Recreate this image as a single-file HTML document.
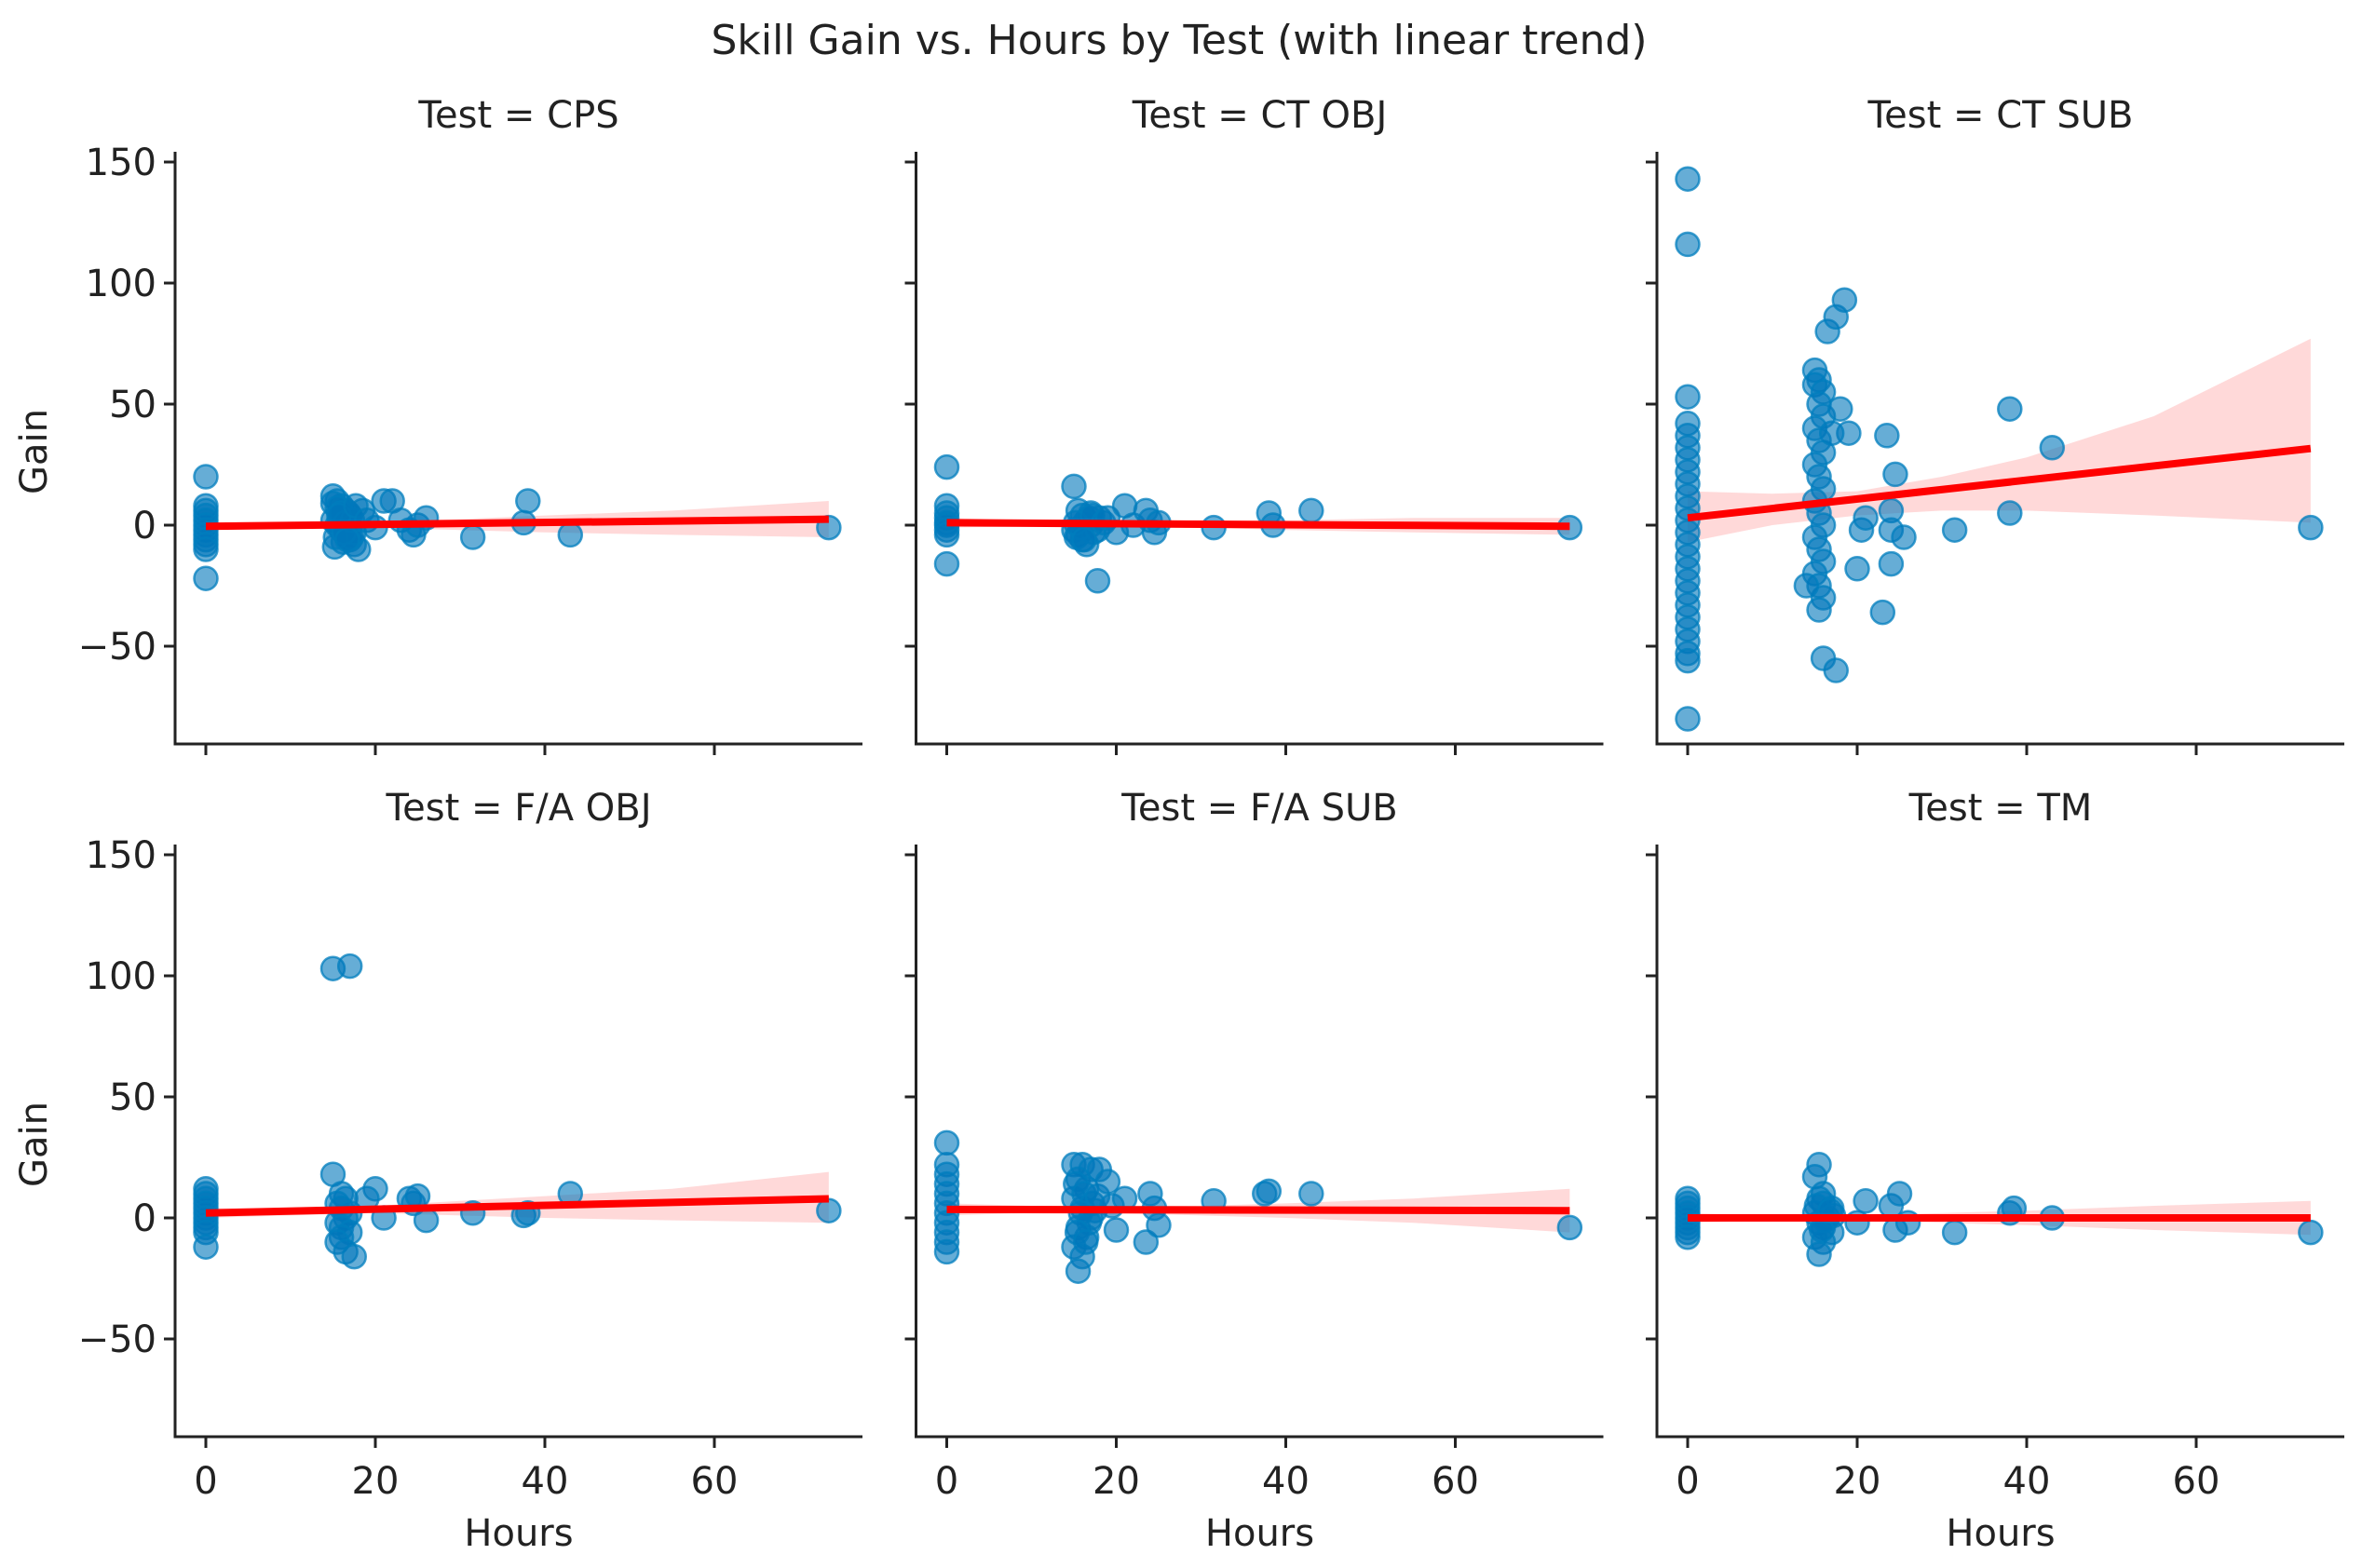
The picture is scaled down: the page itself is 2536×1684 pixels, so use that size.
<!DOCTYPE html>
<html><head><meta charset="utf-8">
<style>
html,body{margin:0;padding:0;background:#fff;}
svg{display:block;font-family:"DejaVu Sans","Liberation Sans",sans-serif;}
</style></head>
<body>
<svg id="chart" width="2536" height="1684" viewBox="0 0 2536 1684" xmlns="http://www.w3.org/2000/svg">
<text x="1266" y="58" font-size="44" text-anchor="middle" fill="#222">Skill Gain vs. Hours by Test (with linear trend)</text>
<text x="0" y="0" font-size="40" text-anchor="middle" fill="#222" transform="translate(50,485) rotate(-90)">Gain</text>
<text x="0" y="0" font-size="40" text-anchor="middle" fill="#222" transform="translate(50,1229) rotate(-90)">Gain</text>
<g id="panels"></g>
</svg>
<script>
const panelTitles = ["Test = CPS","Test = CT OBJ","Test = CT SUB","Test = F/A OBJ","Test = F/A SUB","Test = TM"];
const yTicks = [-50,0,50,100,150];
const xTicks = [0,20,40,60];

const cpsHours = [0,0,0,0,0,0,0,0,0,0,0,0, 15,15.5,16,16.5,17,15,15.5,16,16.5,17,17.5,18,15.2,16.2,17.2,15.8,16.8,18.5, 15,15.5,16,16.5,17,17.5,15.3,16.3,17.3,15.7,16.7,17.7, 19,20,21,22,23,24,24.5,25,26,31.5,38,37.5,43,73.5];
const cpsGain  = [20,8,6,4,2,0,-2,-4,-6,-8,-10,-22, 12,10,8,6,4,2,0,-2,-4,-6,-8,-10,-9,-7,-5,3,5,6, 9,7,5,1,-1,-3,-5,-3,2,4,-6,8, 2,-1,10,10,2,-2,-4,0,3,-5,10,1,-4,-1];

const ctoHours = [0,0,0,0,0,0,0,0,0, 15,15.5,16,16.5,17,15,15.5,16,16.5,17,18,15.3,16.3,17.3, 15.8,16.8,17.8,15.2,16.2,17.2,18.5, 17.8,19,20,21,22,23.5,24,24.5,25,31.5,38,38.5,43,73.5];
const ctoGain  = [24,8,5,3,1,0,-2,-4,-16, 16,6,4,2,0,-2,-4,-6,-8,5,3,-5,1,-3, -1,3,-2,1,-6,4,1, -23,3,-3,8,0,6,2,-3,1,-1,5,0,6,-1];

const ctsHours = [0,0,0,0,0,0,0,0,0,0,0,0,0,0,0,0,0,0,0,0,0,0,0,0,0, 15,15.5,15,16,15.5,16,15,15.5,16,15,15.5,16,15,15.5,16,15,15.5,16,15,15.5,16,15.5, 16.5,17.5,18.5,16,17.5,14,19,18,17,20,20.5,21,23.5,23,24,24,24.5,24,25.5,31.5,38,38,43,73.5];
const ctsGain  = [143,116,53,42,37,32,27,22,17,12,7,2,-3,-8,-13,-18,-23,-28,-33,-38,-43,-48,-53,-56,-80, 64,60,58,55,50,45,40,35,30,25,20,15,10,5,0,-5,-10,-15,-20,-25,-30,-35, 80,86,93,-55,-60,-25,38,48,38,-18,-2,3,37,-36,-16,6,21,-2,-5,-2,48,5,32,-1];

const faoHours = [0,0,0,0,0,0,0,0,0,0,0, 15,17,15,16,16.5,15.5,16,17,16.5,15.5,16,17,16,15.5,16.5, 17.5,20,19,21,24,24.5,25,26,31.5,37.5,38,43,73.5];
const faoGain  = [12,10,8,6,4,2,0,-2,-4,-6,-12, 103,104,18,10,8,6,4,2,0,-2,-4,-6,-8,-10,-14, -16,12,8,0,8,6,9,-1,2,1,2,10,3];

const fasHours = [0,0,0,0,0,0,0,0,0,0,0, 15,16,17,15.5,16.5,15,16,17,15.5,16.5,15,17.5,16,15.5, 15.2,16.2,17.2,15.8,16.8,17.8,15.4,16.4, 18,19,19.5,20,21,23.5,24,24.5,25,31.5,37.5,38,43,73.5];
const fasGain  = [31,22,18,14,10,6,2,-2,-6,-10,-14, 22,22,20,16,12,8,4,0,-4,-8,-12,3,-16,-22, 14,10,6,2,-2,9,-6,-10, 20,15,5,-5,8,-10,10,4,-3,7,10,11,10,-4];

const tmHours = [0,0,0,0,0,0,0,0,0, 15.5,15,16,15.5,16,17,15,16.5,15.5,16,17,15,16,15.5, 15.2,16.2,17.2,15.8,16.8, 20,21,24,24.5,25,26,31.5,38,38.5,43,73.5];
const tmGain  = [8,6,4,2,0,-2,-4,-6,-8, 22,17,10,8,6,4,2,0,-2,-4,-6,-8,-10,-15, 5,-1,1,-5,3, -2,7,5,-5,10,-2,-6,2,4,0,-6];

const hoursSets = [cpsHours, ctoHours, ctsHours, faoHours, fasHours, tmHours];
const gainSets  = [cpsGain, ctoGain, ctsGain, faoGain, fasGain, tmGain];
const trendIntercept = [-0.5, 1, 3, 2, 3.5, 0];
const trendSlope     = [0.04, -0.02, 0.39, 0.08, -0.007, 0];
const bandHours = [0, 10, 20, 30, 40, 55, 73.5];
const bandLow  = [[-2,-1.5,-1,-2,-3,-4,-5],[-1,-0.5,0,-1,-2,-3,-4],[-7,0,4,6,6,4,1],[0,1,2,1,0,-1,-2],[1,2,2,1,0,-2,-6],[-2,-1,-1,-2,-3,-5,-7]];
const bandHigh = [[1,1,1.5,2.5,4,6,10],[3,2,1.5,2,2,3,3],[14,13,14,20,28,45,77],[4,4,5,7,9,12,19],[6,5,5,5,6,8,12],[2,1,1,2,3,5,7]];

const NS = "http://www.w3.org/2000/svg";
const root = document.getElementById("panels");
function mk(tag, attrs, parent) {
  const e = document.createElementNS(NS, tag);
  for (const k in attrs) e.setAttribute(k, attrs[k]);
  parent.appendChild(e);
  return e;
}

for (let p = 0; p < 6; p++) {
  const col = p % 3, row = Math.floor(p / 3);
  const left = 188 + col * 795.5, width = 738;
  const zeroY = 564 + row * 744;
  const topY = 163 + row * 744, botY = 799 + row * 744;
  const xs = h => left + 33 + h * 9.1;
  const ys = g => zeroY - g * 2.6;
  const g = mk("g", {}, root);
  
  

  const t = mk("text", {x: left + width / 2, y: 137 + row * 744, "font-size": 40, "text-anchor": "middle", fill: "#222"}, g);
  t.textContent = panelTitles[p];
  
  

  let pts = [];
  for (let i = 0; i < bandHours.length; i++) pts.push(xs(bandHours[i]) + "," + ys(bandHigh[p][i]));
  for (let i = bandHours.length - 1; i >= 0; i--) pts.push(xs(bandHours[i]) + "," + ys(bandLow[p][i]));
  const band = mk("polygon", {points: pts.join(" "), fill: "rgba(255,0,0,0.15)"}, g);
  
  

  const H = hoursSets[p], G = gainSets[p];
  for (let i = 0; i < H.length; i++) {
    const c = mk("circle", {cx: xs(H[i]), cy: ys(G[i]), r: 12.5, fill: "rgba(0,119,187,0.6)", stroke: "rgba(0,125,190,0.75)", "stroke-width": 2.5}, g);
    
    
  }

  const x0 = 0, x1 = 73.5;
  const ln = mk("line", {x1: xs(x0), y1: ys(trendIntercept[p] + trendSlope[p] * x0), x2: xs(x1), y2: ys(trendIntercept[p] + trendSlope[p] * x1), stroke: "#ff0000", "stroke-width": 8}, g);
  
  

  const sp1 = mk("line", {x1: left, y1: topY, x2: left, y2: botY + 1.5, stroke: "#222", "stroke-width": 3}, g);
  
  
  const sp2 = mk("line", {x1: left - 1.5, y1: botY, x2: left + width, y2: botY, stroke: "#222", "stroke-width": 3}, g);
  
  

  for (const v of yTicks) {
    const tk = mk("line", {x1: left - 12, y1: ys(v), x2: left, y2: ys(v), stroke: "#222", "stroke-width": 3}, g);
    
    
    if (col === 0) {
      const lb = mk("text", {x: left - 20, y: ys(v) + 14, "font-size": 40, "text-anchor": "end", fill: "#222"}, g);
      lb.textContent = v < 0 ? "\u2212" + Math.abs(v) : String(v);
      
      
    }
  }
  for (const v of xTicks) {
    const tk = mk("line", {x1: xs(v), y1: botY, x2: xs(v), y2: botY + 12, stroke: "#222", "stroke-width": 3}, g);
    
    
    if (row === 1) {
      const lb = mk("text", {x: xs(v), y: botY + 61, "font-size": 40, "text-anchor": "middle", fill: "#222"}, g);
      lb.textContent = String(v);
      
      
    }
  }
  if (row === 1) {
    const xl = mk("text", {x: left + width / 2, y: 1660, "font-size": 40, "text-anchor": "middle", fill: "#222"}, g);
    xl.textContent = "Hours";
    
    
  }
}
</script>
</body></html>
